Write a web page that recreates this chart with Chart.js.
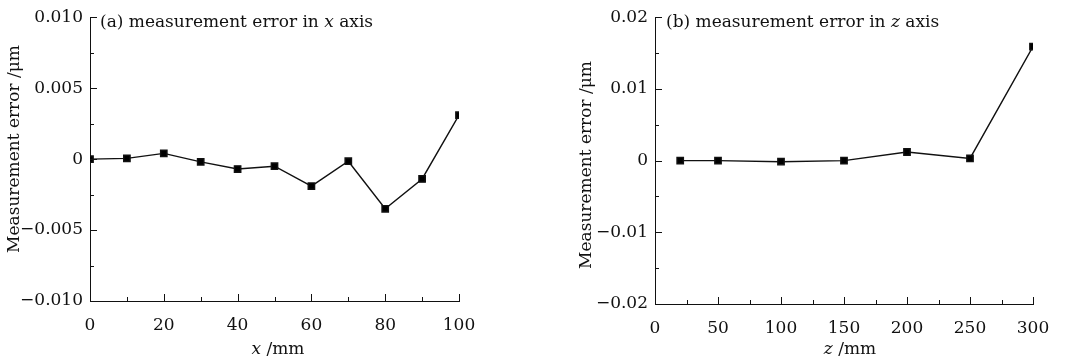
<!DOCTYPE html>
<html>
<head>
<meta charset="utf-8">
<script src="https://cdn.jsdelivr.net/npm/chart.js@4.4.1/dist/chart.umd.min.js"></script>
<style>
  html, body { margin: 0; padding: 0; background: #fff; }
  #wrap { position: relative; width: 1077px; height: 363px; }
  #chartA { position: absolute; left: 0; top: 0; }
  #chartB { position: absolute; left: 540px; top: 0; }
</style>
</head>
<body>
<div id="wrap">
  <canvas id="chartA" width="540" height="363"></canvas>
  <canvas id="chartB" width="537" height="363"></canvas>
</div>
<script>
// panel (a): error along x
const xPositionsA = [0, 10, 20, 30, 40, 50, 60, 70, 80, 90, 100];
const errorsA = [0, 0.00005, 0.0004, -0.0002, -0.0007, -0.0005, -0.0019, -0.00015, -0.0035, -0.0014, 0.0031];
const xTicksA = [0, 20, 40, 60, 80, 100];
const xMinorA = [10, 30, 50, 70, 90];
const yTicksA = [-0.01, -0.005, 0, 0.005, 0.01];
const yTickLabelsA = ['\u22120.010', '\u22120.005', '0', '0.005', '0.010'];
const yMinorA = [-0.0075, -0.0025, 0.0025, 0.0075];

// panel (b): error along z
const zPositionsB = [20, 50, 100, 150, 200, 250, 300];
const errorsB = [0, 0, -0.00015, 0, 0.0012, 0.0003, 0.0159];
const xTicksB = [0, 50, 100, 150, 200, 250, 300];
const xMinorB = [25, 75, 125, 175, 225, 275];
const yTicksB = [-0.02, -0.01, 0, 0.01, 0.02];
const yTickLabelsB = ['\u22120.02', '\u22120.01', '0', '0.01', '0.02'];
const yMinorB = [-0.015, -0.005, 0.005, 0.015];

const FONT = '"DejaVu Serif", "Liberation Serif", serif';
const INK = '#111';

// draws inward ticks, the panel caption and the axis titles (with italic variable)
const decorPlugin = {
  id: 'decor',
  afterDraw(chart, args, o) {
    const ctx = chart.ctx;
    const xs = chart.scales.x, ys = chart.scales.y;
    const a = chart.chartArea;
    ctx.save();
    ctx.strokeStyle = INK;
    ctx.lineWidth = 1;
    ctx.beginPath();
    o.xMajor.forEach(v => { const p = Math.round(xs.getPixelForValue(v)) + 0.5; ctx.moveTo(p, a.bottom); ctx.lineTo(p, a.bottom - 7); });
    o.xMinor.forEach(v => { const p = Math.round(xs.getPixelForValue(v)) + 0.5; ctx.moveTo(p, a.bottom); ctx.lineTo(p, a.bottom - 4); });
    o.yMajor.forEach(v => { const p = Math.round(ys.getPixelForValue(v)) + 0.5; ctx.moveTo(a.left, p); ctx.lineTo(a.left + 7, p); });
    o.yMinor.forEach(v => { const p = Math.round(ys.getPixelForValue(v)) + 0.5; ctx.moveTo(a.left, p); ctx.lineTo(a.left + 4, p); });
    ctx.stroke();

    ctx.fillStyle = INK;
    ctx.textBaseline = 'alphabetic';
    ctx.textAlign = 'left';
    // text runs, some in italic
    const drawMixed = (parts, x, y, align) => {
      let total = 0;
      parts.forEach(p => { ctx.font = (p.it ? 'italic ' : '') + o.size + 'px ' + FONT; total += ctx.measureText(p.t).width; });
      let cx = align === 'center' ? x - total / 2 : x;
      parts.forEach(p => {
        ctx.font = (p.it ? 'italic ' : '') + o.size + 'px ' + FONT;
        ctx.fillText(p.t, cx, y);
        cx += ctx.measureText(p.t).width;
      });
    };
    drawMixed(o.caption, o.capX, o.capY, 'left');
    drawMixed(o.xTitle, o.xtX, o.xtY, 'center');

    ctx.save();
    ctx.translate(o.ytX, o.ytY);
    ctx.rotate(-Math.PI / 2);
    ctx.textAlign = 'center';
    ctx.textBaseline = 'middle';
    ctx.font = o.size + 'px ' + FONT;
    ctx.fillText(o.yTitle, 0, 0);
    ctx.restore();
    ctx.restore();
  }
};

function makeChart(id, xs, ys, cfg) {
  const points = xs.map((x, i) => ({ x: x, y: ys[i] }));
  return new Chart(document.getElementById(id), {
    type: 'scatter',
    data: {
      datasets: [{
        data: points,
        showLine: true,
        borderColor: INK,
        borderWidth: 1.4,
        backgroundColor: '#000',
        pointStyle: 'rect',
        pointRadius: 4.5,
        pointHoverRadius: 4.5,
        clip: 0
      }]
    },
    options: {
      responsive: false,
      animation: false,
      devicePixelRatio: 1,
      layout: { padding: cfg.padding },
      plugins: {
        legend: { display: false },
        tooltip: { enabled: false },
        decor: cfg.decor
      },
      scales: {
        x: {
          type: 'linear',
          min: cfg.xMin, max: cfg.xMax,
          grid: { display: false, drawTicks: false },
          border: { display: true, color: INK, width: 1 },
          afterBuildTicks: s => { s.ticks = cfg.xTicks.map(v => ({ value: v })); },
          afterFit: s => { s.height = cfg.xHeight; },
          ticks: {
            color: INK, padding: 14,
            font: { family: FONT, size: cfg.decor.size },
            maxRotation: 0,
            callback: v => String(v)
          }
        },
        y: {
          min: cfg.yMin, max: cfg.yMax,
          grid: { display: false, drawTicks: false },
          border: { display: true, color: INK, width: 1 },
          afterBuildTicks: s => { s.ticks = cfg.yTicks.map(v => ({ value: v })); },
          afterFit: s => { s.width = cfg.yWidth; },
          ticks: {
            color: INK, padding: 7,
            font: { family: FONT, size: cfg.decor.size },
            callback: (v, i) => cfg.yLabels[i]
          }
        }
      }
    },
    plugins: [decorPlugin]
  });
}

makeChart('chartA', xPositionsA, errorsA, {
  padding: { left: 0, right: 81, top: 16, bottom: 0 },
  xMin: 0, xMax: 100, yMin: -0.01, yMax: 0.01,
  xTicks: xTicksA, yTicks: yTicksA, yLabels: yTickLabelsA,
  xHeight: 62, yWidth: 90,
  decor: {
    size: 17,
    xMajor: xTicksA, xMinor: xMinorA, yMajor: yTicksA, yMinor: yMinorA,
    caption: [{ t: '(a) measurement error in ' }, { t: 'x', it: true }, { t: ' axis' }],
    capX: 100, capY: 27,
    xTitle: [{ t: 'x', it: true }, { t: ' /mm' }],
    xtX: 278, xtY: 354,
    yTitle: 'Measurement error /\u03bcm',
    ytX: 15, ytY: 149
  }
});

makeChart('chartB', zPositionsB, errorsB, {
  padding: { left: 0, right: 44, top: 14, bottom: 0 },
  xMin: 0, xMax: 300, yMin: -0.02, yMax: 0.02,
  xTicks: xTicksB, yTicks: yTicksB, yLabels: yTickLabelsB,
  xHeight: 59, yWidth: 115,
  decor: {
    size: 17,
    xMajor: xTicksB, xMinor: xMinorB, yMajor: yTicksB, yMinor: yMinorB,
    caption: [{ t: '(b) measurement error in ' }, { t: 'z', it: true }, { t: ' axis' }],
    capX: 126, capY: 27,
    xTitle: [{ t: 'z', it: true }, { t: ' /mm' }],
    xtX: 310, xtY: 354,
    yTitle: 'Measurement error /\u03bcm',
    ytX: 47, ytY: 165
  }
});
</script>
</body>
</html>
